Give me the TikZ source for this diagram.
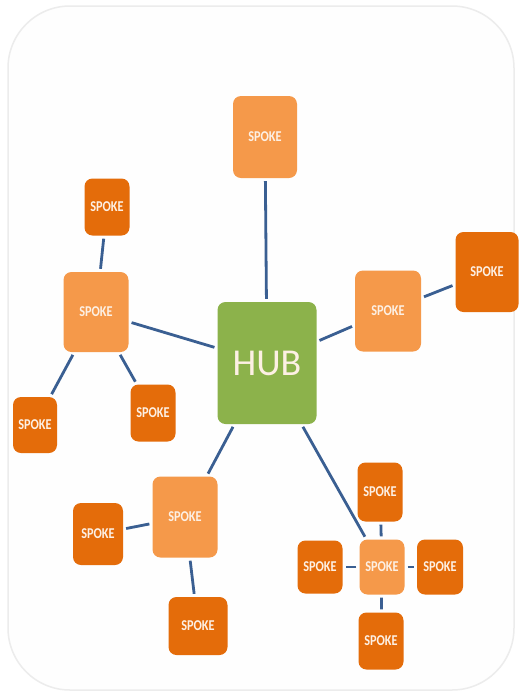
\documentclass[tikz,border=0pt]{standalone}
\usepackage{fontspec}
\setmainfont{Carlito}
\newfontfamily\spokefont[FakeStretch=0.82]{Carlito}
\definecolor{lightor}{HTML}{F5994A}
\definecolor{darkor}{HTML}{E46C0A}
\definecolor{hubgreen}{HTML}{8CB24B}
\definecolor{linkblue}{HTML}{3A5F92}
\definecolor{txtcream}{HTML}{FDF0E4}
\tikzset{
  box/.style={rounded corners=8pt, inner sep=0pt, text=txtcream},
  lspoke/.style={box, fill=lightor, font=\spokefont\bfseries\fontsize{15}{15}\selectfont},
  dspoke/.style={box, fill=darkor, font=\spokefont\bfseries\fontsize{15}{15}\selectfont},
  hubbox/.style={box, fill=hubgreen, font=\fontsize{38}{40}\selectfont},
  link/.style={draw=linkblue, line width=2.8pt, shorten >=3pt, shorten <=3pt}
}
\begin{document}
\begin{tikzpicture}[x=1pt,y=-1pt]
\useasboundingbox (0,0) rectangle (522,697);
\fill[white] (0,0) rectangle (522,697);
\draw[gray!15, line width=1.5pt, fill=gray!1, rounded corners=62pt] (8,6) rectangle (514,690);

% hub
\node[hubbox, minimum width=99pt, minimum height=122pt] (hub) at (267,363) {HUB};

% top
\node[lspoke, minimum width=64pt, minimum height=82pt] (top) at (265,137) {SPOKE};

% right
\node[lspoke, minimum width=66pt, minimum height=81pt] (rl) at (388,311) {SPOKE};
\node[dspoke, minimum width=63pt, minimum height=80pt] (rd) at (487,272) {SPOKE};

% left
\node[lspoke, minimum width=65pt, minimum height=80pt] (ll) at (96,312) {SPOKE};
\node[dspoke, minimum width=45pt, minimum height=57pt] (ltop) at (107,207) {SPOKE};
\node[dspoke, minimum width=44pt, minimum height=56pt] (lbl) at (35,425) {SPOKE};
\node[dspoke, minimum width=45pt, minimum height=57pt] (lbr) at (153,413) {SPOKE};

% bottom left
\node[lspoke, minimum width=65pt, minimum height=81pt] (bl) at (185,517) {SPOKE};
\node[dspoke, minimum width=50pt, minimum height=62pt] (bll) at (98,534) {SPOKE};
\node[dspoke, minimum width=59pt, minimum height=58pt] (blb) at (198,626) {SPOKE};

% cluster
\node[lspoke, minimum width=45pt, minimum height=55pt] (cc) at (382,567) {SPOKE};
\node[dspoke, minimum width=45pt, minimum height=59pt] (ct) at (380,492) {SPOKE};
\node[dspoke, minimum width=45pt, minimum height=53pt] (cl) at (320,567) {SPOKE};
\node[dspoke, minimum width=46pt, minimum height=55pt] (cr) at (440,567) {SPOKE};
\node[dspoke, minimum width=45pt, minimum height=57pt] (cb) at (381,641) {SPOKE};

% links
\draw[link] (hub) -- (top);
\draw[link] (hub) -- (rl);
\draw[link] (rl) -- (rd);
\draw[link] (hub) -- (ll);
\draw[link] (ll) -- (ltop);
\draw[link] (ll) -- (lbl);
\draw[link] (ll) -- (lbr);
\draw[link] (hub) -- (bl);
\draw[link] (bl) -- (bll);
\draw[link] (bl) -- (blb);
\draw[link] (hub) -- (cc);
\draw[link] (cc) -- (ct);
\draw[link] (cc) -- (cl);
\draw[link] (cc) -- (cr);
\draw[link] (cc) -- (cb);
\end{tikzpicture}
\end{document}
